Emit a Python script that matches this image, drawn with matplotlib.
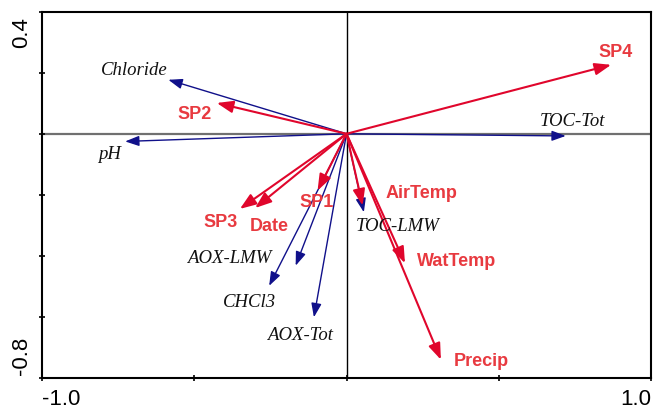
import matplotlib
matplotlib.use("Agg")
import matplotlib.pyplot as plt

# ---- data: biplot arrow scores (axis 1, axis 2) ----
env_names = ["Chloride", "pH", "TOC-Tot", "AOX-LMW", "CHCl3", "AOX-Tot", "TOC-LMW"]
env_x = [-0.585, -0.727, 0.720, -0.167, -0.254, -0.107, 0.057]
env_y = [0.177, -0.025, -0.007, -0.432, -0.498, -0.601, -0.257]

sup_names = ["SP2", "SP4", "SP3", "Date", "SP1", "AirTemp", "WatTemp", "Precip"]
sup_x = [-0.426, 0.869, -0.350, -0.300, -0.095, 0.053, 0.192, 0.310]
sup_y = [0.101, 0.226, -0.246, -0.243, -0.186, -0.235, -0.424, -0.740]

x_ticks = [-1.0, -0.5, 0.0, 0.5, 1.0]
x_ticklabels = ["-1.0", "", "", "", "1.0"]
y_ticks = [-0.8, -0.6, -0.4, -0.2, 0.0, 0.2, 0.4]
y_end_labels = ["-0.8", "0.4"]

# ---- layout: label anchor points (centre of text) ----
env_label_pos = [(-0.698, 0.212), (-0.777, -0.063), (0.741, 0.042), (-0.386, -0.404),
                 (-0.320, -0.548), (-0.153, -0.656), (0.169, -0.299)]
sup_label_pos = [(-0.498, 0.065), (0.885, 0.271), (-0.412, -0.286), (-0.255, -0.299),
                 (-0.097, -0.223), (0.245, -0.191), (0.363, -0.414), (0.442, -0.744)]

BLUE = "#10108a"
RED_ARROW = "#e0062c"
RED_TEXT = "#e83a40"

fig = plt.figure(figsize=(6.54, 4.10), dpi=100)
ax = fig.add_axes([42 / 654, 1 - 379 / 410, 609 / 654, 366.3 / 410])
ax.set_xlim(-1.0, 1.0)
ax.set_ylim(-0.8, 0.4)

ax.axhline(0, color="#707070", lw=1.6, zorder=1)
ax.axvline(0, color="black", lw=1.0, zorder=1)

for name, x, y, (lx, ly) in zip(env_names, env_x, env_y, env_label_pos):
    ax.annotate("", xy=(x, y), xytext=(0, 0),
                arrowprops=dict(arrowstyle="-|>,head_length=0.6,head_width=0.22",
                                color=BLUE, lw=1.0, shrinkA=0, shrinkB=0,
                                mutation_scale=14), zorder=3)
    ax.text(lx, ly, name, ha="center", va="center", fontsize=13.5,
            family="Liberation Serif", style="italic", color="#111111", zorder=4)

for name, x, y, (lx, ly) in zip(sup_names, sup_x, sup_y, sup_label_pos):
    ax.annotate("", xy=(x, y), xytext=(0, 0),
                arrowprops=dict(arrowstyle="-|>,head_length=0.7,head_width=0.26",
                                color=RED_ARROW, lw=1.5, shrinkA=0, shrinkB=0,
                                mutation_scale=14), zorder=3)
    ax.text(lx, ly, name, ha="center", va="center", fontsize=13,
            family="Liberation Sans", weight="bold", color=RED_TEXT, zorder=4)

for sp in ax.spines.values():
    sp.set_linewidth(1.5)
    sp.set_color("black")

ax.set_xticks(x_ticks)
ax.set_xticklabels(x_ticklabels, fontsize=16, family="Liberation Sans")
ax.set_yticks(y_ticks)
ax.set_yticklabels([])
ax.tick_params(direction="inout", length=5, width=1.2)
ax.tick_params(axis="x", pad=4.5)
xt = ax.get_xticklabels()
xt[0].set_ha("left")
xt[-1].set_ha("right")

# y end labels (rotated, aligned to the axis ends)
ax.annotate(y_end_labels[1], xy=(0, 1), xycoords="axes fraction",
            xytext=(-10, -4), textcoords="offset pixels", rotation=90,
            ha="right", va="top", fontsize=16, family="Liberation Sans")
ax.annotate(y_end_labels[0], xy=(0, 0), xycoords="axes fraction",
            xytext=(-10, 4), textcoords="offset pixels", rotation=90,
            ha="right", va="bottom", fontsize=16, family="Liberation Sans")

fig.savefig("out.png", dpi=100)
